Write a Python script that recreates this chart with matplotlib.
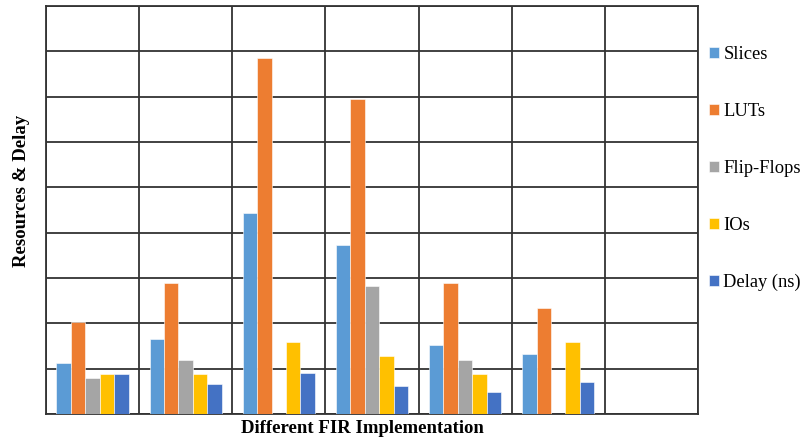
import numpy as np
import matplotlib
matplotlib.use("Agg")
import matplotlib.pyplot as plt

# values (units = grid rows)
groups = ["1", "2", "3", "4", "5", "6", "7"]
series = ["Slices", "LUTs", "Flip-Flops", "IOs", "Delay (ns)"]
colors = ["#5B9BD5", "#ED7D31", "#A5A5A5", "#FFC000", "#4472C4"]

slices = [1.13, 1.65, 4.44, 3.73, 1.52, 1.32, 0]
luts = [2.03, 2.89, 7.86, 6.95, 2.89, 2.34, 0]
flip_flops = [0.79, 1.19, 0, 2.83, 1.19, 0, 0]
ios = [0.88, 0.88, 1.59, 1.28, 0.88, 1.59, 0]
delay = [0.88, 0.66, 0.90, 0.62, 0.49, 0.70, 0]

plt.rcParams["font.family"] = ["Liberation Serif", "DejaVu Serif"]

fig = plt.figure(figsize=(8.01, 4.42), dpi=100)
ax = fig.add_axes([0.0574, 0.0633, 0.8140, 0.9231])

x = np.arange(len(groups))
width = 0.155
data = [slices, luts, flip_flops, ios, delay]
for i, (vals, name, col) in enumerate(zip(data, series, colors)):
    ax.bar(x + (i - 2) * width, vals, width, color=col, label=name,
           edgecolor="white", linewidth=0.4, zorder=3)

ax.set_xlim(-0.5, len(groups) - 0.5)
ax.set_ylim(0, 9)
ax.set_yticks(np.arange(0, 10))
ax.set_xticks(np.arange(-0.5, len(groups), 1.0))
ax.tick_params(length=0, labelleft=False, labelbottom=False)
ax.grid(True, color="#333333", linewidth=1.3, zorder=0)
for s in ax.spines.values():
    s.set_color("#333333")
    s.set_linewidth(1.3)

ax.set_ylabel("Resources & Delay", fontsize=13.5, fontweight="bold")
ax.yaxis.set_label_coords(-0.025, 0.547)
ax.set_xlabel("Different FIR Implementation", fontsize=13.5, fontweight="bold")
ax.xaxis.set_label_coords(0.485, -0.015)
ax.xaxis.label.set_verticalalignment("top")

leg = ax.legend(loc="upper left", bbox_to_anchor=(1.005, 0.92), frameon=False,
                fontsize=13.3, handlelength=0.55, handleheight=0.55,
                handletextpad=0.25, labelspacing=2.16, borderaxespad=0)

fig.savefig("out.png", dpi=100)
